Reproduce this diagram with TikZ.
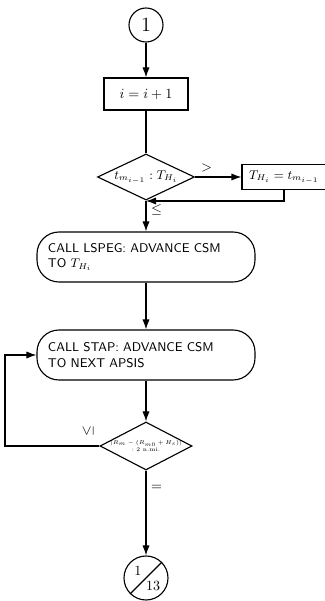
\documentclass[tikz,border=0pt]{standalone}
\usetikzlibrary{shapes.geometric,arrows.meta}
\tikzset{
  conn/.style={circle,draw,minimum size=0.85cm,inner sep=0pt,font=\Large},
  proc/.style={draw,minimum width=2.1cm,minimum height=0.8cm},
  callbox/.style={draw,rounded corners=0.55cm,minimum width=5.45cm,minimum height=1.25cm,
    text width=4.9cm,align=left,font=\sffamily\small},
  test/.style={diamond,draw,inner sep=0pt}
}
\begin{document}
\begin{tikzpicture}[>={Latex[length=2.5mm,width=1.8mm]},line width=0.8pt]
\useasboundingbox (0,0) rectangle (8.125,15.025);
\node[conn] (c1) at (3.65,14.4) {1};
\node[proc] (inc) at (3.65,12.675) {$i = i + 1$};
\node[test,aspect=2.1,minimum width=2.425cm,minimum height=1.15cm,font=\small] (cmp) at (3.65,10.6) {$t_{m_{i-1}} : T_{H_i}$};
\node[proc,minimum width=2.1cm,minimum height=0.625cm,font=\small] (set) at (7.1,10.6) {$T_{H_i} = t_{m_{i-1}}$};
\node[callbox] (lspeg) at (3.65,8.6) {CALL LSPEG: ADVANCE CSM\\TO $T_{H_i}$};
\node[callbox] (stap) at (3.65,6.15) {CALL STAP: ADVANCE CSM\\TO NEXT APSIS};
\node[test,minimum width=2.3cm,minimum height=1.2cm] (conv) at (3.65,3.875) {};
\node[font=\tiny,scale=0.8,align=center,inner sep=0pt] (convtxt) at (conv.center)
  {$|R_m-(R_{m0}+H_s)|$\\$:2$ n.mi.};
\node[circle,draw,minimum size=1.1cm,inner sep=0pt] (c13) at (3.65,0.575) {};
\node (pg) at ([shift={(-0.2,0.17)}]c13.center) {1};
\node (sh) at ([shift={(0.18,-0.2)}]c13.center) {13};
\draw (c13.225) -- (c13.45);
% connectors
\coordinate (m) at (3.65,10.0);
\coordinate (back) at (0.125,6.15);
\draw[->] (c1) -- (inc);
\draw (inc) -- (cmp);
\draw[->] (cmp.east) -- node[above,pos=0.25] (gt) {$>$} (set.west);
\draw[->] (set.south) |- (m);
\draw[->] (cmp.south) -- node[right,pos=0.3] (le1) {$\leq$} (lspeg.north);
\draw[->] (lspeg) -- (stap);
\draw[->] (stap) -- (conv);
\draw[->] (conv.west) -| (back) -- (stap.west);
\node[rotate=90] (le2) at (2.2,4.25) {$\leq$};
\draw[->] (conv.south) -- node[right,pos=0.2] (eq) {$=$} (c13.north);
\end{tikzpicture}
\end{document}
